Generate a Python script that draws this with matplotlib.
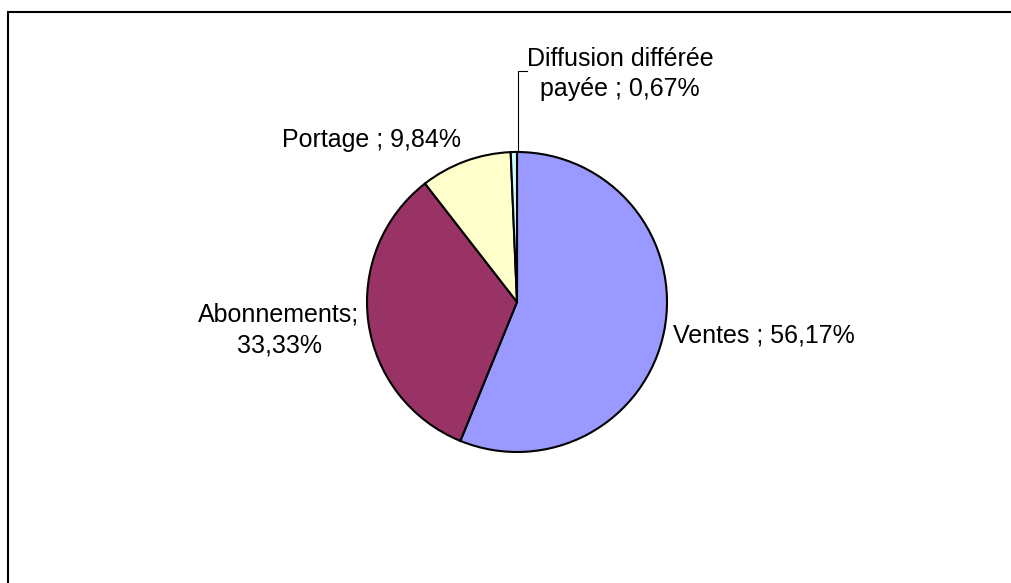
import matplotlib
matplotlib.use("Agg")
import matplotlib.pyplot as plt
from matplotlib.patches import Rectangle
from matplotlib.lines import Line2D

categories = ["Ventes", "Abonnements", "Portage", "Diffusion différée payée"]
values = [56.17, 33.33, 9.84, 0.67]
labels = ["Ventes ; 56,17%", "Abonnements;\n33,33%", "Portage ; 9,84%",
          "Diffusion différée\npayée ; 0,67%"]
colors = ["#9999FF", "#993366", "#FFFFCC", "#CCFFFF"]

W, H = 1011, 583
fig = plt.figure(figsize=(W / 100, H / 100), dpi=100)
plt.rcParams['font.family'] = ['Liberation Sans', 'DejaVu Sans']

ax = fig.add_axes([0, 0, 1, 1])
cx, cy, R = 517, 302, 150  # pixel placement of pie

ax.pie(values, colors=colors, startangle=90, counterclock=False,
       radius=1, center=(0, 0),
       wedgeprops=dict(edgecolor="black", linewidth=1.5))
ax.set_xlim(-cx / R, (W - cx) / R)
ax.set_ylim(-(H - cy) / R, cy / R)
ax.set_aspect('auto')
ax.axis('off')


def px(x, y):
    return ((x - cx) / R, (cy - y) / R)


fs = 18
ax.text(*px(673, 342), labels[0], ha='left', va='baseline', fontsize=fs)
ax.text(*px(279, 353), labels[1], ha='center', va='baseline', fontsize=fs,
        linespacing=1.4, multialignment='center')
ax.text(*px(282, 147), labels[2], ha='left', va='baseline', fontsize=fs)
ax.text(*px(620, 96), labels[3], ha='center', va='baseline', fontsize=fs,
        linespacing=1.33, multialignment='center')

# leader line for small slice
xs, ys = zip(px(518, 152), px(518, 71), px(527, 71))
ax.add_line(Line2D(xs, ys, color="black", linewidth=0.8))

# chart frame (top and left edges visible)
fig.patches.append(Rectangle((8 / W, -0.1), 1.2, 1.1 - 12 / H,
                             transform=fig.transFigure, fill=False,
                             edgecolor="black", linewidth=1.5))

fig.savefig("out.png", dpi=100)
